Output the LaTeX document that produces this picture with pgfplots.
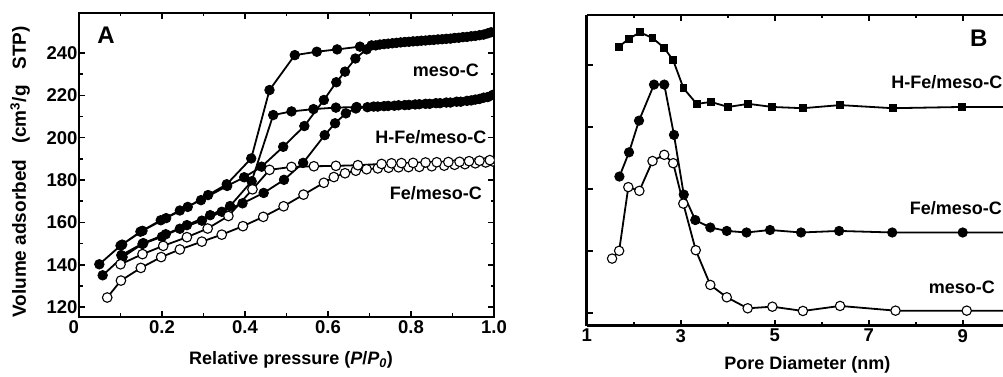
\documentclass[border=0pt]{standalone}
\usepackage{fontspec}
\setmainfont{Liberation Sans}
\usepackage{pgfplots}
\pgfplotsset{compat=1.18}
\newcommand{\fs}{\fontsize{18}{21}\selectfont\bfseries}
\newcommand{\fl}{\fontsize{18.5}{22}\selectfont\bfseries}
\pgfplotsset{
  myax/.style={
    scale only axis,
    tick align=inside,
    major tick length=6pt, minor tick length=3.5pt,
    every tick/.style={black, line width=1.6pt},
    axis line style={line width=2.6pt, -},
    tick label style={font=\fl},
    label style={font=\fs},
    /pgf/number format/assume math mode=true,
    clip marker paths=true,
  },
  fillc/.style={black, line width=1.8pt, mark=*, mark size=4.8pt, mark options={fill=black, draw=black, line width=0.8pt}},
  openc/.style={black, line width=1.8pt, mark=*, mark size=4.8pt, mark options={fill=white, draw=black, line width=1.1pt}},
}
\begin{document}
\begin{tikzpicture}
\path[use as bounding box] (0,0) rectangle (1003pt,377pt);
% ---------------- Panel A ----------------
\begin{axis}[myax,
  at={(79pt,60pt)}, anchor=south west,
  width=415pt, height=304pt,
  xmin=0, xmax=1, ymin=115.3, ymax=258.9,
  xtick={0,0.2,0.4,0.6,0.8,1.0}, xticklabels={\makebox[0pt][r]{0},0.2,0.4,0.6,0.8,1.0},
  ytick={120,140,160,180,200,220,240},
  minor x tick num=1, minor y tick num=1,
  yticklabel style={xshift=2pt},
  xlabel={Relative pressure (\textit{P}/\textit{P}\textsubscript{\textit{0}})},
  xlabel style={at={(axis description cs:0.511,-0.141)}, anchor=center},
  ylabel={Volume adsorbed\ \ \ (cm\textsuperscript{3}/g\ \ \ STP)},
  ylabel style={at={(axis description cs:-0.142,0.477)}, anchor=center, font=\fontsize{19}{22}\selectfont\bfseries},
]
% meso-C
\addplot[fillc] coordinates {
(0.049,140.2)(0.100,149.0)(0.148,155.6)(0.197,161.0)(0.243,165.6)(0.294,170.5)
(0.357,177.2)(0.398,181.3)(0.440,186.3)(0.492,195.7)(0.543,205.5)(0.590,217.8)
(0.620,226.2)(0.641,231.2)(0.666,237.4)(0.693,241.7)(0.715,243.6)(0.735,244.2)
(0.755,244.6)(0.775,245.0)(0.795,245.3)(0.815,245.6)(0.835,245.9)(0.855,246.2)
(0.875,246.5)(0.895,246.8)(0.915,247.2)(0.935,247.6)(0.955,248.1)(0.975,248.7)
(0.993,249.8)
(0.985,249.3)(0.965,248.4)(0.945,247.9)(0.925,247.5)(0.905,247.1)(0.885,246.7)
(0.865,246.4)(0.845,246.1)(0.825,245.8)(0.805,245.5)(0.785,245.2)(0.765,244.8)
(0.745,244.4)(0.725,244.0)(0.705,243.6)(0.677,243.0)(0.622,241.7)(0.573,240.6)
(0.520,239.0)(0.459,222.5)(0.415,190.2)(0.356,178.0)(0.311,172.9)(0.262,167.3)
(0.210,162.0)(0.153,156.0)(0.104,149.5)
};
% H-Fe/meso-C
\addplot[fillc] coordinates {
(0.057,135.0)(0.105,143.6)(0.153,149.8)(0.200,153.2)(0.243,157.0)(0.296,160.8)
(0.344,165.0)(0.394,169.0)(0.445,173.9)(0.494,180.1)(0.540,188.1)(0.592,201.2)
(0.617,206.8)(0.643,211.5)(0.667,213.8)(0.695,214.4)(0.720,214.7)(0.745,215.0)
(0.770,215.3)(0.795,215.5)(0.820,215.8)(0.845,216.0)(0.870,216.3)(0.895,216.6)
(0.920,217.0)(0.945,217.6)(0.965,218.3)(0.985,219.2)(0.997,220.2)
(0.975,218.9)(0.955,218.0)(0.935,217.4)(0.910,217.0)(0.885,216.6)(0.860,216.3)
(0.835,216.0)(0.810,215.7)(0.785,215.4)(0.760,215.1)(0.735,214.9)(0.710,214.7)
(0.669,214.5)(0.619,214.2)(0.565,213.5)(0.512,212.4)(0.468,210.7)(0.416,179.4)
(0.364,167.7)(0.316,163.4)(0.260,158.7)(0.209,154.4)(0.155,150.2)(0.102,144.5)
};
% Fe/meso-C
\addplot[openc] coordinates {
(0.068,124.5)(0.101,132.5)(0.149,138.5)(0.198,143.6)(0.243,147.2)(0.296,150.9)
(0.344,154.2)(0.395,158.2)(0.444,162.6)(0.493,167.6)(0.541,173.1)(0.590,178.7)
(0.614,181.4)(0.641,183.2)(0.667,184.4)(0.693,185.1)(0.720,185.5)(0.746,185.8)
(0.770,186.0)(0.794,186.1)(0.820,186.2)(0.850,186.5)(0.880,186.8)(0.905,187.2)
(0.930,187.5)(0.955,187.9)(0.980,188.3)(0.997,188.8)
(0.990,189.4)(0.965,189.1)(0.940,188.9)(0.917,188.6)(0.890,188.5)(0.862,188.4)
(0.835,188.3)(0.805,188.1)(0.777,188.0)(0.753,187.9)(0.729,187.6)(0.672,187.0)
(0.619,186.7)(0.566,186.5)(0.512,186.2)(0.459,184.8)(0.418,175.6)(0.360,163.0)
(0.310,157.1)(0.260,153.0)(0.203,148.9)(0.153,145.0)(0.100,140.2)
};
\node[font=\fontsize{24}{27}\selectfont\bfseries] at (rel axis cs:0.065,0.928) {A};
\node[font=\fs] at (rel axis cs:0.884,0.8125) {meso-C};
\node[font=\fs] at (rel axis cs:0.848,0.593) {H-Fe/meso-C};
\node[font=\fs] at (rel axis cs:0.860,0.409) {Fe/meso-C};
\end{axis}
% ---------------- Panel B ----------------
\begin{axis}[myax,
  at={(586.7pt,51.3pt)}, anchor=south west,
  width=416.3pt, height=310.7pt,
  xmin=1, xmax=9.857, ymin=-0.2, ymax=4.80,
  axis x line*=box, axis y line*=left,
  xtick={1,3,5,7,9}, minor x tick num=1,
  ytick={0,1,2,3,4}, yticklabels={}, ytick pos=left,
  xlabel={Pore Diameter (nm)},
  xlabel style={at={(axis description cs:0.530,-0.1265)}, anchor=center},
]
% H-Fe/meso-C
\addplot[black, line width=1.8pt, mark=square*, mark size=3pt, mark options={fill=black}] coordinates {
(1.687,4.29)(1.90,4.42)(2.135,4.52)(2.40,4.43)(2.65,4.27)(2.84,4.07)(3.06,3.62)
(3.34,3.37)(3.645,3.40)(4.01,3.32)(4.44,3.37)(4.95,3.32)(5.60,3.30)(6.39,3.35)
(7.51,3.30)(8.98,3.32)(10.4,3.32)
};
% Fe/meso-C
\addplot[fillc, mark size=4.7pt] coordinates {
(1.696,2.20)(1.90,2.59)(2.113,3.10)(2.432,3.68)(2.65,3.68)(2.857,2.87)(3.065,1.91)
(3.31,1.50)(3.63,1.38)(3.98,1.325)(4.40,1.30)(4.90,1.34)(5.56,1.30)(6.37,1.325)
(7.50,1.30)(9.0,1.30)(10.4,1.30)
};
% meso-C
\addplot[openc, mark size=4.7pt] coordinates {
(1.54,0.88)(1.69,1.005)(1.885,2.03)(2.12,1.97)(2.40,2.45)(2.65,2.55)(2.84,2.415)
(3.055,1.765)(3.32,1.015)(3.63,0.456)(3.98,0.257)(4.425,0.08)(4.95,0.106)
(5.60,0.037)(6.39,0.118)(7.57,0.042)(9.085,0.042)(10.4,0.04)
};
\node[font=\fontsize{24}{27}\selectfont\bfseries] at (rel axis cs:0.942,0.926) {B};
\node[font=\fs] at (rel axis cs:0.865,0.784) {H-Fe/meso-C};
\node[font=\fs] at (rel axis cs:0.887,0.379) {Fe/meso-C};
\node[font=\fs] at (rel axis cs:0.901,0.1246) {meso-C};
\end{axis}
\end{tikzpicture}
\end{document}
